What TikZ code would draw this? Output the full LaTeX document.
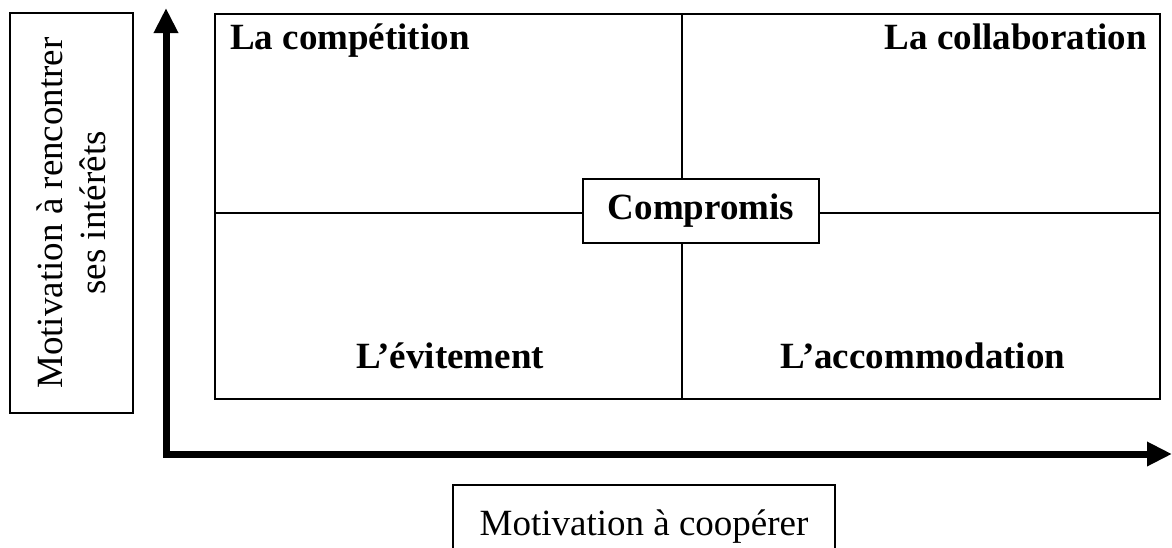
\documentclass[tikz,border=0pt]{standalone}
\usepackage{fontspec}
\setmainfont{Liberation Serif}
\usetikzlibrary{arrows.meta}
\begin{document}
\begin{tikzpicture}[x=1pt,y=-1pt,
  big/.style={font=\fontsize{37}{43}\selectfont},
  quad/.style={big, font=\fontsize{37}{43}\selectfont\bfseries, inner sep=0pt},
  gridline/.style={line width=1.5pt},
  boxed/.style={draw, line width=2pt, inner sep=0pt},
  axis/.style={line width=7pt, line join=miter,
    {Triangle[length=25pt,width=23pt]}-{Triangle[length=25pt,width=23pt]}}]
\useasboundingbox (0,0) rectangle (1172,547);
% grid
\coordinate (g1) at (215,14);
\coordinate (g2) at (1160,399);
\coordinate (mt) at (682,14);
\coordinate (mb) at (682,399);
\coordinate (ml) at (215,213);
\coordinate (mr) at (1160,213);
\draw[gridline] (g1) rectangle (g2);
\draw[gridline] (mt) -- (mb);
\draw[gridline] (ml) -- (mr);
\node[boxed, fill=white, big, font=\fontsize{37}{43}\selectfont\bfseries,
  minimum width=236pt, minimum height=64pt] (comp) at (701,211) {Compromis};
% quadrant labels
\node[quad, anchor=base west] (compet) at (230,49) {La compétition};
\node[quad, anchor=base east] (collab) at (1147,49) {La collaboration};
\node[quad, anchor=base] (evit) at (450,368) {L’évitement};
\node[quad, anchor=base] (accom) at (923,368) {L’accommodation};
% axes
\coordinate (ytip) at (166,8);
\coordinate (O) at (166,454);
\coordinate (xtip) at (1172,454);
\draw[axis] (ytip) -- (O) -- (xtip);
% axis labels
\node[boxed, big, rotate=90, align=center, minimum width=400pt,
  minimum height=123pt] (ylab) at (71.5,213)
  {Motivation à rencontrer\\ses intérêts};
\node[boxed, big, anchor=base, text height=50pt, text depth=60pt,
  minimum width=382pt] (xlab) at (644,535) {Motivation à coopérer};
\end{tikzpicture}
\end{document}
